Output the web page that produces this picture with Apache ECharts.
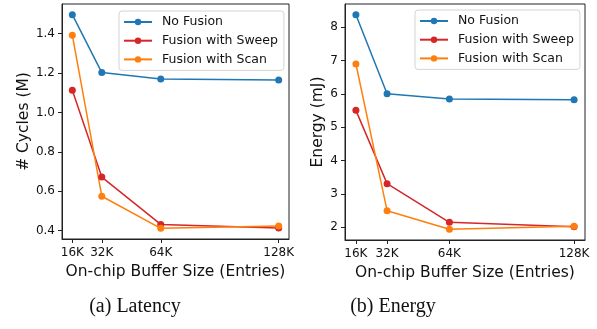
<!DOCTYPE html>
<html>
<head>
<meta charset="utf-8">
<script src="https://cdn.jsdelivr.net/npm/echarts@6/dist/echarts.min.js"></script>
<style>
html,body{margin:0;padding:0;background:#fff;}
#chart{width:597px;height:329px;}
</style>
</head>
<body>
<div id="chart"></div>
<script>
// buffer sizes (K entries)
var bufSizes=[16,32,64,128]
var xTickLabels=['16K','32K','64K','128K']
var seriesNames=['No Fusion','Fusion with Sweep','Fusion with Scan']
var colors=['#1f77b4','#d62728','#ff7f0e']

// latency (# cycles, M)
var cycNoFusion=[1.496,1.202,1.169,1.165]
var cycSweep=[1.113,0.672,0.432,0.414]
var cycScan=[1.392,0.575,0.412,0.424]
var cycTicks=[0.4,0.6,0.8,1.0,1.2,1.4]

// energy (mJ)
var enNoFusion=[8.38,6.01,5.85,5.83]
var enSweep=[5.51,3.31,2.15,2.02]
var enScan=[6.90,2.50,1.94,2.03]
var enTicks=[2,3,4,5,6,7,8]

var axisCol='#222'
var font='DejaVu Sans'

function pairs(ys){
    var out=[]
    for(var i=0;i<bufSizes.length;i++) out.push([bufSizes[i],ys[i]])
    return out
}

function xAx(gi){
    return {
        type:'value',gridIndex:gi,min:10.4,max:133.6,
        name:'On-chip Buffer Size (Entries)',nameLocation:'middle',nameGap:23,
        nameTextStyle:{fontFamily:font,fontSize:15.5,color:'#111'},
        axisLine:{show:true,lineStyle:{color:axisCol,width:1}},
        axisTick:{show:true,length:4,lineStyle:{color:axisCol},customValues:bufSizes},
        axisLabel:{fontFamily:font,fontSize:12,color:'#111',margin:8,customValues:bufSizes,
            formatter:function(v){var i=bufSizes.indexOf(v);return i>=0?xTickLabels[i]:''}},
        splitLine:{show:false}
    }
}
function yAx(gi,mn,mx,ticks,name,gap,fmt){
    return {
        type:'value',gridIndex:gi,min:mn,max:mx,
        name:name,nameLocation:'middle',nameGap:gap,
        nameTextStyle:{fontFamily:font,fontSize:15.5,color:'#111'},
        axisLine:{show:true,lineStyle:{color:axisCol,width:1}},
        axisTick:{show:true,length:4,lineStyle:{color:axisCol},customValues:ticks},
        axisLabel:{fontFamily:font,fontSize:12,color:'#111',margin:7,customValues:ticks,formatter:fmt},
        splitLine:{show:false}
    }
}
function ser(gi,name,ys,c){
    return {
        type:'line',name:name,xAxisIndex:gi,yAxisIndex:gi,data:pairs(ys),
        symbol:'circle',symbolSize:7,color:c,
        lineStyle:{width:1.5,color:c},itemStyle:{color:c},
        animation:false
    }
}
function leg(left,top){
    return {
        left:left,top:top,orient:'vertical',
        data:seriesNames,
        itemWidth:28,itemHeight:8,itemGap:4.7,
        padding:[4,6,4,4],
        backgroundColor:'rgba(255,255,255,0.8)',
        borderColor:'#d4d4d4',borderWidth:1,borderRadius:3,
        textStyle:{fontFamily:font,fontSize:12.5,color:'#111',lineHeight:14,padding:[0,0,0,5]},
        selectedMode:false
    }
}

var myChart=echarts.init(document.getElementById('chart'),null,{renderer:'canvas'})
var option={
    animation:false,
    backgroundColor:'#fff',
    grid:[
        {left:62,top:4,width:227,height:235,show:true,borderColor:axisCol,borderWidth:1,backgroundColor:'#fff'},
        {left:345,top:4,width:240,height:236,show:true,borderColor:axisCol,borderWidth:1,backgroundColor:'#fff'}
    ],
    xAxis:[xAx(0),xAx(1)],
    yAxis:[
        yAx(0,0.358,1.550,cycTicks,'# Cycles (M)',29,function(v){return v.toFixed(1)}),
        yAx(1,1.62,8.70,enTicks,'Energy (mJ)',17,function(v){return String(v)})
    ],
    legend:[leg(119,11),leg(415,10)],
    series:[
        ser(0,seriesNames[0],cycNoFusion,colors[0]),
        ser(0,seriesNames[1],cycSweep,colors[1]),
        ser(0,seriesNames[2],cycScan,colors[2]),
        ser(1,seriesNames[0],enNoFusion,colors[0]),
        ser(1,seriesNames[1],enSweep,colors[1]),
        ser(1,seriesNames[2],enScan,colors[2])
    ],
    graphic:[
        {type:'text',x:135,y:307,style:{text:'(a) Latency',font:'20px "Liberation Serif"',fill:'#111',align:'center',verticalAlign:'middle'}},
        {type:'text',x:393,y:307,style:{text:'(b) Energy',font:'20px "Liberation Serif"',fill:'#111',align:'center',verticalAlign:'middle'}}
    ]
}
myChart.setOption(option)
</script>
</body>
</html>
